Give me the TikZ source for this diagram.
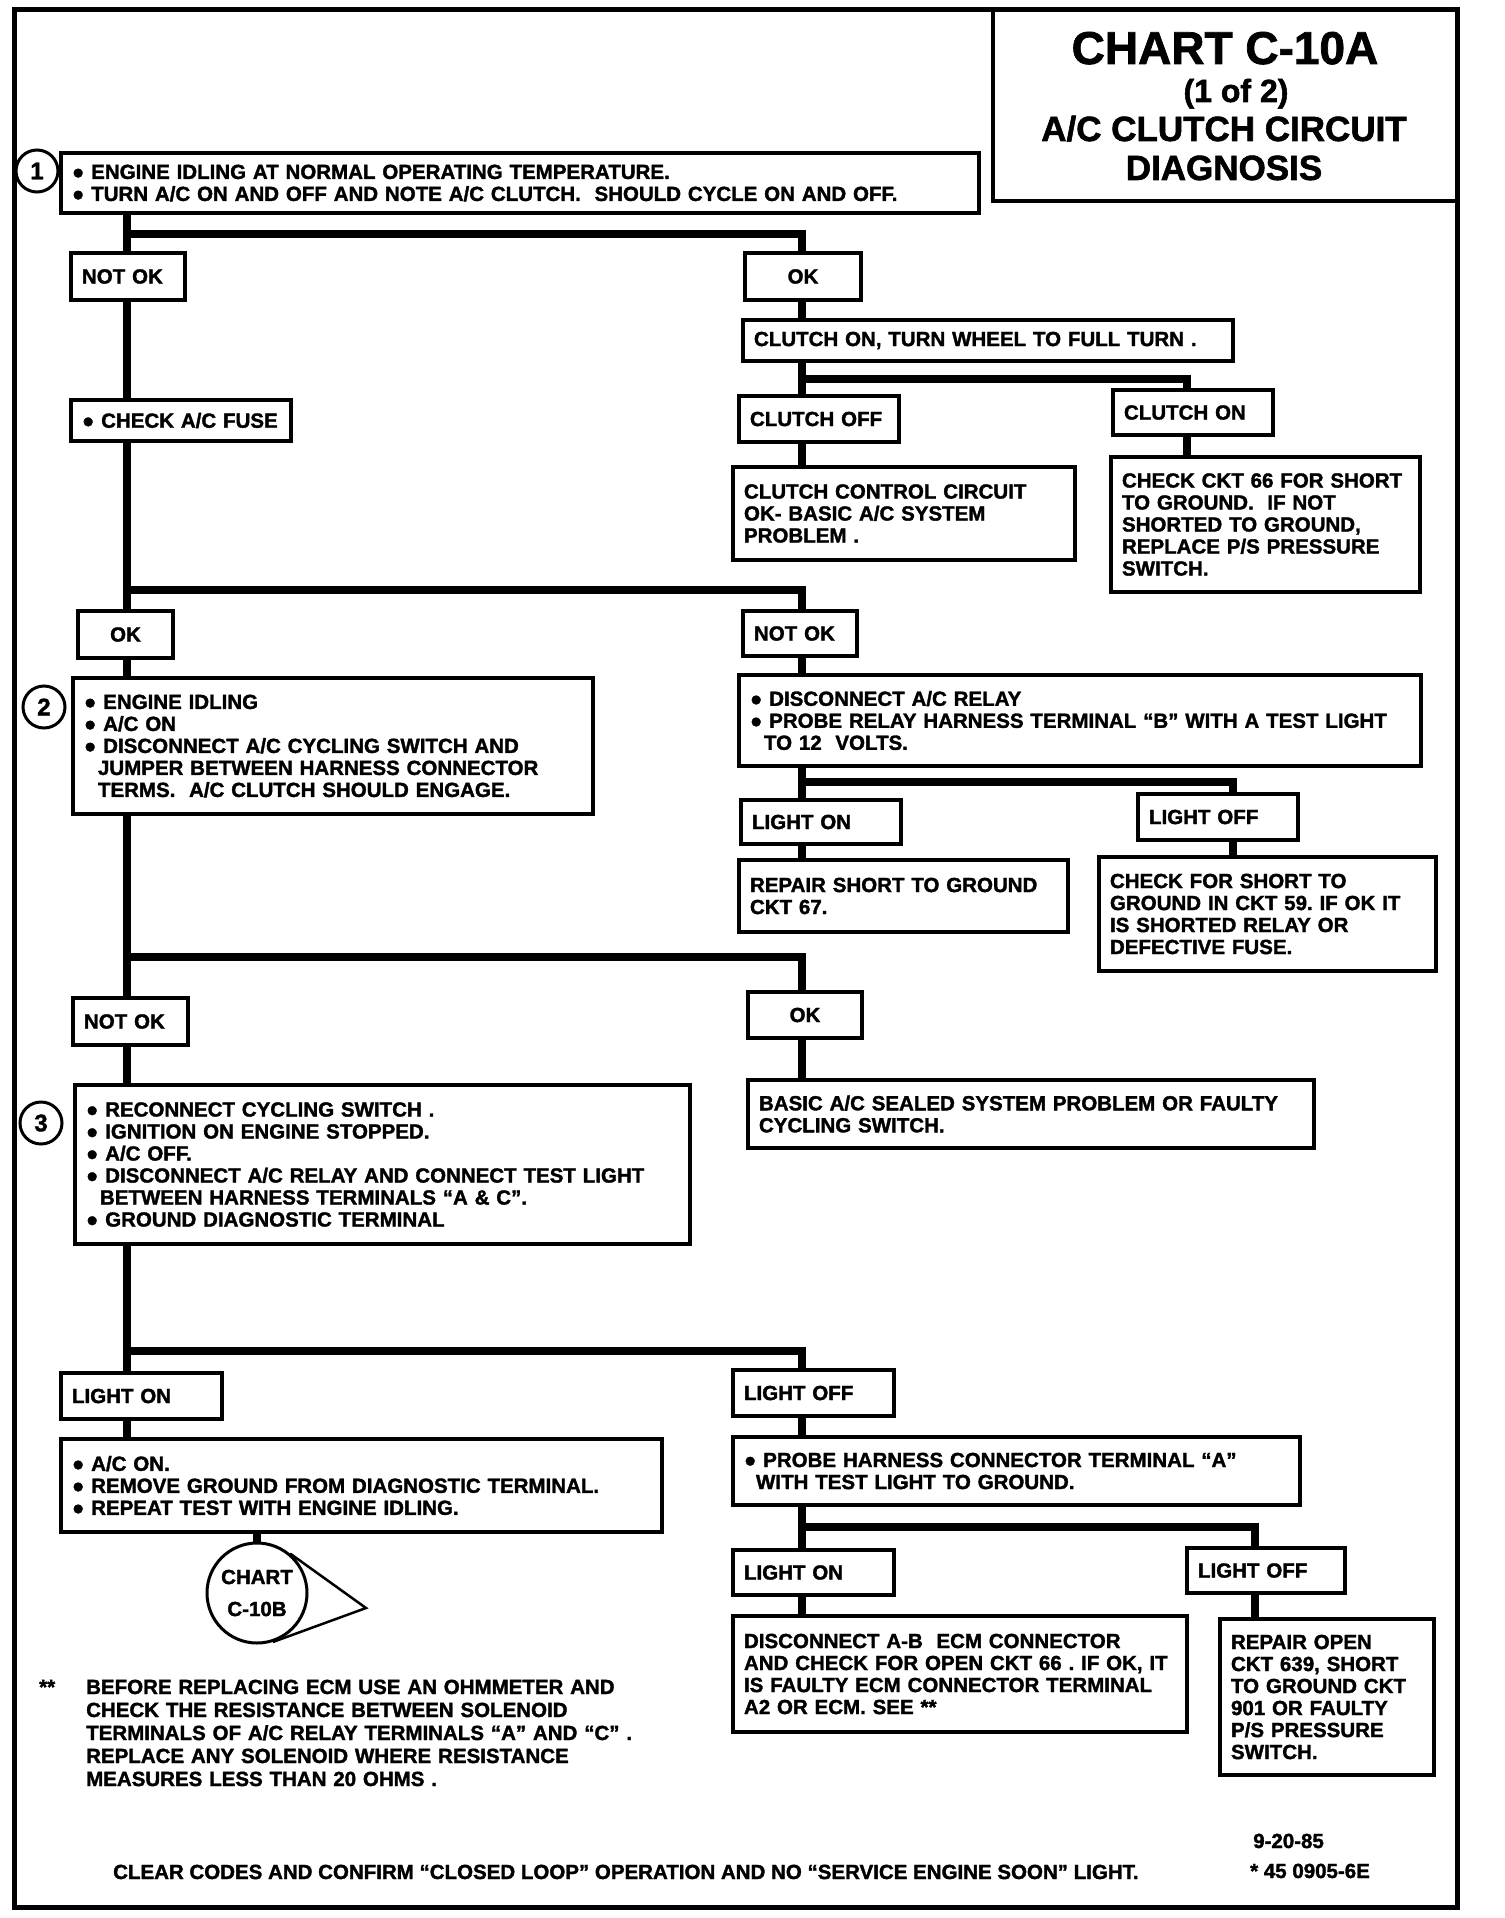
\documentclass[tikz,border=0pt]{standalone}
\usepackage{fontspec}
\setmainfont{Liberation Sans}[BoldFeatures={FakeBold=1.6}]
\usepackage{tikz}
\frenchspacing

\begin{document}
\begin{tikzpicture}[
x = 1pt, y = -1pt,
chkrect/.style={rectangle, align = left, draw, line width = 3.5pt, anchor = north west, outer sep = 0pt, inner xsep = 11pt, inner ysep = 0pt, fill = white, font = \fontsize{20.5}{22}\selectfont\bfseries},
okrect/.style={chkrect, align = center},
stepnum/.style={circle, draw, line width = 3pt, minimum size = 42pt, inner sep = 0pt, fill = white, font = \fontsize{24}{24}\selectfont\bfseries},
link/.style={line width = 7.5pt, line join = miter},
txt/.style={anchor = base west, inner sep = 0pt, font = \fontsize{20.5}{23}\selectfont\bfseries},
ttl/.style={anchor = base, inner sep = 0pt, font = \fontsize{#1}{#1}\selectfont\bfseries}]

\fill[white] (0,0) rectangle (1504,1918);
\useasboundingbox (0,0) rectangle (1504,1918);
\draw[line width = 5pt] (14,10) rectangle (1457,1907);

\draw[line width = 3.5pt] (993,10) |- (1457,201);
\node[ttl = 46] (T1) at (1225,64) {CHART C-10A};
\node[ttl = 32] (T2) at (1236,102) {(1 of 2)};
\node[ttl = 35] (T3) at (1224,141) {A/C CLUTCH CIRCUIT};
\node[ttl = 35] (T4) at (1224,180) {DIAGNOSIS};

\coordinate (spineL) at (127,0);
\coordinate (spineR) at (802,0);
\coordinate (dropA) at (1187,0);
\coordinate (dropB) at (1233,0);
\coordinate (dropC) at (1255,0);
\coordinate (b1) at (127,234);
\coordinate (b2) at (127,590);
\coordinate (b3) at (127,957);
\coordinate (b4) at (127,1351);
\coordinate (r1) at (802,379);
\coordinate (r2) at (802,782);
\coordinate (r3) at (802,1527);

\node[chkrect, minimum width = 918pt, minimum height = 60pt, text width = 896pt] (S1) at (61,153) {● ENGINE IDLING AT NORMAL OPERATING TEMPERATURE.\\● TURN A/C ON AND OFF AND NOTE A/C CLUTCH.~ SHOULD CYCLE ON AND OFF.};
\node[stepnum] (C1) at (37,171) {1};

\node[chkrect, minimum width = 114pt, minimum height = 47pt, text width = 92pt] (NOK1) at (71,253) {NOT OK};
\node[chkrect, minimum width = 220pt, minimum height = 41pt, text width = 198pt] (FUSE) at (71,400) {● CHECK A/C FUSE};
\node[okrect, minimum width = 116pt, minimum height = 47pt, text width = 94pt] (OK1) at (745,253) {OK};
\node[chkrect, minimum width = 490pt, minimum height = 41pt, text width = 468pt] (TURN) at (743,320) {CLUTCH ON, TURN WHEEL TO FULL TURN .};
\node[chkrect, minimum width = 160pt, minimum height = 46pt, text width = 138pt] (COFF) at (739,396) {CLUTCH OFF};
\node[chkrect, minimum width = 160pt, minimum height = 45pt, text width = 138pt] (CON) at (1113,390) {CLUTCH ON};
\node[chkrect, minimum width = 342pt, minimum height = 93pt, text width = 320pt] (CTRL) at (733,467) {CLUTCH CONTROL CIRCUIT\\OK- BASIC A/C SYSTEM\\PROBLEM .};
\node[chkrect, minimum width = 309pt, minimum height = 135pt, text width = 287pt] (CKT66) at (1111,457) {CHECK CKT 66 FOR SHORT\\TO GROUND.~ IF NOT\\SHORTED TO GROUND,\\REPLACE P/S PRESSURE\\SWITCH.};

\node[okrect, minimum width = 95pt, minimum height = 47pt, text width = 73pt] (OK2) at (78,611) {OK};
\node[chkrect, minimum width = 520pt, minimum height = 136pt, text width = 498pt] (S2) at (73,678) {● ENGINE IDLING\\● A/C ON\\● DISCONNECT A/C CYCLING SWITCH AND\\\hspace*{14pt}JUMPER BETWEEN HARNESS CONNECTOR\\\hspace*{14pt}TERMS.~ A/C CLUTCH SHOULD ENGAGE.};
\node[stepnum] (C2) at (44,707) {2};
\node[chkrect, minimum width = 114pt, minimum height = 45pt, text width = 92pt] (NOK2) at (743,611) {NOT OK};
\node[chkrect, minimum width = 682pt, minimum height = 91pt, text width = 660pt] (RELAY) at (739,675) {● DISCONNECT A/C RELAY\\● PROBE RELAY HARNESS TERMINAL “B” WITH A TEST LIGHT\\\hspace*{14pt}TO 12~ VOLTS.};
\node[chkrect, minimum width = 160pt, minimum height = 44pt, text width = 138pt] (LON1) at (741,800) {LIGHT ON};
\node[chkrect, minimum width = 160pt, minimum height = 46pt, text width = 138pt] (LOFF1) at (1138,794) {LIGHT OFF};
\node[chkrect, minimum width = 329pt, minimum height = 72pt, text width = 307pt] (REPAIR) at (739,860) {REPAIR SHORT TO GROUND\\CKT 67.};
\node[chkrect, minimum width = 337pt, minimum height = 114pt, text width = 315pt] (SHORT) at (1099,857) {CHECK FOR SHORT TO\\GROUND IN CKT 59. IF OK IT\\IS SHORTED RELAY OR\\DEFECTIVE FUSE.};

\node[chkrect, minimum width = 115pt, minimum height = 47pt, text width = 93pt] (NOK3) at (73,998) {NOT OK};
\node[chkrect, minimum width = 615pt, minimum height = 159pt, text width = 593pt] (S3) at (75,1085) {● RECONNECT CYCLING SWITCH .\\● IGNITION ON ENGINE STOPPED.\\● A/C OFF.\\● DISCONNECT A/C RELAY AND CONNECT TEST LIGHT\\\hspace*{14pt}BETWEEN HARNESS TERMINALS “A \& C”.\\● GROUND DIAGNOSTIC TERMINAL};
\node[stepnum] (C3) at (41,1123) {3};
\node[okrect, minimum width = 114pt, minimum height = 46pt, text width = 92pt] (OK3) at (748,992) {OK};
\node[chkrect, minimum width = 566pt, minimum height = 68pt, text width = 544pt] (BASIC) at (748,1080) {BASIC A/C SEALED SYSTEM PROBLEM OR FAULTY\\CYCLING SWITCH.};

\node[chkrect, minimum width = 161pt, minimum height = 46pt, text width = 139pt] (LON2) at (61,1373) {LIGHT ON};
\node[chkrect, minimum width = 601pt, minimum height = 93pt, text width = 579pt] (ACON) at (61,1439) {● A/C ON.\\● REMOVE GROUND FROM DIAGNOSTIC TERMINAL.\\● REPEAT TEST WITH ENGINE IDLING.};
\node[circle, draw, line width = 3pt, minimum size = 100pt, inner sep = 0pt, align = center, fill = white, font = \fontsize{20.5}{22}\selectfont\bfseries] (CH) at (257,1593) {CHART\\[10pt]C-10B};
\coordinate (tip) at (366,1608);
\node[chkrect, minimum width = 161pt, minimum height = 46pt, text width = 139pt] (LOFF2) at (733,1370) {LIGHT OFF};
\node[chkrect, minimum width = 567pt, minimum height = 68pt, text width = 545pt] (PROBE) at (733,1437) {● PROBE HARNESS CONNECTOR TERMINAL “A”\\\hspace*{12pt}WITH TEST LIGHT TO GROUND.};
\node[chkrect, minimum width = 161pt, minimum height = 45pt, text width = 139pt] (LON3) at (733,1550) {LIGHT ON};
\node[chkrect, minimum width = 158pt, minimum height = 45pt, text width = 136pt] (LOFF3) at (1187,1548) {LIGHT OFF};
\node[chkrect, minimum width = 454pt, minimum height = 116pt, text width = 432pt] (ECM) at (733,1616) {DISCONNECT A-B~ ECM CONNECTOR\\AND CHECK FOR OPEN CKT 66 . IF OK, IT\\IS FAULTY ECM CONNECTOR TERMINAL\\A2 OR ECM. SEE **};
\node[chkrect, minimum width = 214pt, minimum height = 156pt, text width = 192pt] (OPEN) at (1220,1619) {REPAIR OPEN\\CKT 639, SHORT\\TO GROUND CKT\\901 OR FAULTY\\P/S PRESSURE\\SWITCH.};

\node[txt] (STAR) at (39,1694) {**};
\node[txt, align = left, text width = 660pt] (NOTE) at (86,1694) {BEFORE REPLACING ECM USE AN OHMMETER AND\\CHECK THE RESISTANCE BETWEEN SOLENOID\\TERMINALS OF A/C RELAY TERMINALS “A” AND “C” .\\REPLACE ANY SOLENOID WHERE RESISTANCE\\MEASURES LESS THAN 20 OHMS .};
\node[txt] (DATE) at (1253,1848) {9-20-85};
\node[txt] (CODE) at (1250,1878) {* 45 0905-6E};
\node[txt] (CLEAR) at (113,1879) {CLEAR CODES AND CONFIRM “CLOSED LOOP” OPERATION AND NO “SERVICE ENGINE SOON” LIGHT.};

\draw[link] (S1.south -| spineL) -- (NOK1.north -| spineL);
\draw[link] (b1) -| (OK1.north -| spineR);
\draw[link] (NOK1.south -| spineL) -- (FUSE.north -| spineL);
\draw[link] (FUSE.south -| spineL) -- (OK2.north -| spineL);
\draw[link] (b2) -| (NOK2.north -| spineR);
\draw[link] (OK2.south -| spineL) -- (S2.north -| spineL);
\draw[link] (S2.south -| spineL) -- (NOK3.north -| spineL);
\draw[link] (b3) -| (OK3.north -| spineR);
\draw[link] (NOK3.south -| spineL) -- (S3.north -| spineL);
\draw[link] (S3.south -| spineL) -- (LON2.north -| spineL);
\draw[link] (b4) -| (LOFF2.north -| spineR);
\draw[link] (LON2.south -| spineL) -- (ACON.north -| spineL);
\draw[link] (ACON.south -| CH.north) -- (CH.north);
\draw[line width = 2.5pt, line join = miter] (CH.50) -- (tip) -- (CH.-72);

\draw[link] (OK1.south -| spineR) -- (TURN.north -| spineR);
\draw[link] (TURN.south -| spineR) -- (COFF.north -| spineR);
\draw[link] (r1) -| (CON.north -| dropA);
\draw[link] (COFF.south -| spineR) -- (CTRL.north -| spineR);
\draw[link] (CON.south -| dropA) -- (CKT66.north -| dropA);
\draw[link] (NOK2.south -| spineR) -- (RELAY.north -| spineR);
\draw[link] (RELAY.south -| spineR) -- (LON1.north -| spineR);
\draw[link] (r2) -| (LOFF1.north -| dropB);
\draw[link] (LON1.south -| spineR) -- (REPAIR.north -| spineR);
\draw[link] (LOFF1.south -| dropB) -- (SHORT.north -| dropB);
\draw[link] (OK3.south -| spineR) -- (BASIC.north -| spineR);
\draw[link] (LOFF2.south -| spineR) -- (PROBE.north -| spineR);
\draw[link] (PROBE.south -| spineR) -- (LON3.north -| spineR);
\draw[link] (r3) -| (LOFF3.north -| dropC);
\draw[link] (LON3.south -| spineR) -- (ECM.north -| spineR);
\draw[link] (LOFF3.south -| dropC) -- (OPEN.north -| dropC);

\end{tikzpicture}
\end{document}
